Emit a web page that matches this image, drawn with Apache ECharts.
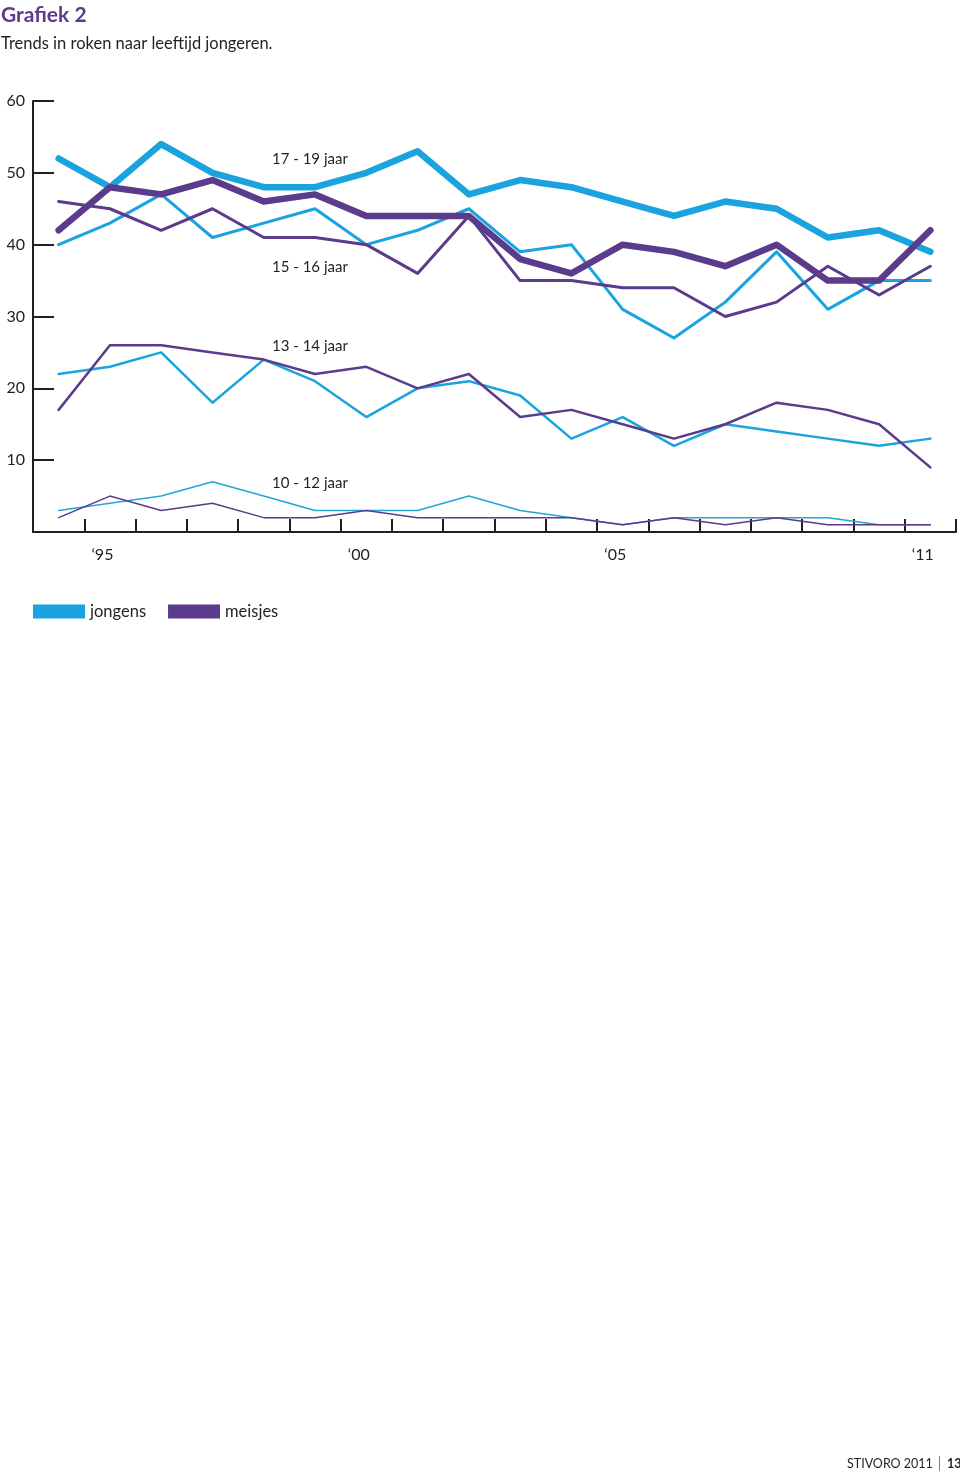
<!DOCTYPE html>
<html>
<head>
<meta charset="utf-8">
<script src="https://cdn.jsdelivr.net/npm/echarts@6/dist/echarts.min.js"></script>
<style>
html,body{margin:0;padding:0;background:#fff;}
#chart{width:960px;height:1473px;}
</style>
</head>
<body>
<div id="chart"></div>
<script>
const years = ['1994','1995','1996','1997','1998','1999','2000','2001','2002','2003','2004','2005','2006','2007','2008','2009','2010','2011'];
const xTickLabels = {'1995':'\u201895','2000':'\u201800','2005':'\u201805','2011':'\u201811'};
const yTickValues = [10,20,30,40,50,60];

const jongens17_19 = [52,48,54,50,48,48,50,53,47,49,48,46,44,46,45,41,42,39];
const meisjes17_19 = [42,48,47,49,46,47,44,44,44,38,36,40,39,37,40,35,35,42];
const jongens15_16 = [40,43,47,41,43,45,40,42,45,39,40,31,27,32,39,31,35,35];
const meisjes15_16 = [46,45,42,45,41,41,40,36,44,35,35,34,34,30,32,37,33,37];
const jongens13_14 = [22,23,25,18,24,21,16,20,21,19,13,16,12,15,14,13,12,13];
const meisjes13_14 = [17,26,26,25,24,22,23,20,22,16,17,15,13,15,18,17,15,9];
const jongens10_12 = [3,4,5,7,5,3,3,3,5,3,2,1,2,2,2,2,1,1];
const meisjes10_12 = [2,5,3,4,2,2,3,2,2,2,2,1,2,1,2,1,1,1];

const groupLabels = ['17 - 19 jaar','15 - 16 jaar','13 - 14 jaar','10 - 12 jaar'];
const legendNames = ['jongens','meisjes'];

const BLUE = '#1aa3de';
const BLUE_THIN = '#23a6d2';
const PURPLE = '#5a3b8c';
const INK = '#231f20';
const FONT = 'Lato, "Open Sans", sans-serif';

function line(name, data, color, width) {
  return {
    name: name, type: 'line', data: data,
    showSymbol: false, symbol: 'none', smooth: false,
    itemStyle: {color: color},
    lineStyle: {color: color, width: width, cap: 'round', join: 'round'},
    emphasis: {disabled: true},
    silent: true
  };
}

const chart = echarts.init(document.getElementById('chart'), null, {renderer: 'canvas'});
chart.setOption({
  animation: false,
  backgroundColor: '#fff',
  grid: {left: 33, top: 101, width: 923, height: 431, containLabel: false},
  xAxis: {
    type: 'category', data: years, boundaryGap: true,
    axisLine: {lineStyle: {color: INK, width: 2}},
    axisTick: {show: true, inside: true, length: 13, interval: 0, lineStyle: {color: INK, width: 2}},
    axisLabel: {interval: 0, margin: 15, fontSize: 16, color: INK, fontFamily: FONT,
      padding: [0, 15, 0, 0],
      formatter: function (v) { return xTickLabels[v] || ''; }},
    splitLine: {show: false}
  },
  yAxis: {
    type: 'value', min: 0, max: 60, interval: 10,
    axisLine: {show: true, lineStyle: {color: INK, width: 2}},
    axisTick: {show: true, inside: true, length: 21, lineStyle: {color: INK, width: 2}},
    axisLabel: {margin: 8, fontSize: 16, color: INK, fontFamily: FONT,
      formatter: function (v) { return yTickValues.indexOf(v) >= 0 ? String(v) : ''; }},
    splitLine: {show: false}
  },
  legend: {
    left: 33, top: 603, padding: 0, itemWidth: 52, itemHeight: 14, itemGap: 22,
    icon: 'rect', selectedMode: false,
    textStyle: {fontSize: 16.5, color: INK, fontFamily: FONT},
    data: [{name: legendNames[0], icon: 'rect', itemStyle: {color: BLUE}},
           {name: legendNames[1], icon: 'rect', itemStyle: {color: PURPLE}}]
  },
  series: [
    line(legendNames[0], jongens10_12, BLUE_THIN, 1.5),
    line(legendNames[1], meisjes10_12, PURPLE, 1.5),
    line(legendNames[0], jongens13_14, BLUE, 2.5),
    line(legendNames[1], meisjes13_14, PURPLE, 2.5),
    line(legendNames[0], jongens15_16, BLUE, 3),
    line(legendNames[1], meisjes15_16, PURPLE, 3),
    line(legendNames[0], jongens17_19, BLUE, 6.5),
    line(legendNames[1], meisjes17_19, PURPLE, 6.5)
  ],
  graphic: [
    {type: 'text', left: 1, top: 5, style: {text: 'Grafiek 2', fill: PURPLE, font: 'bold 21px ' + FONT}},
    {type: 'text', left: 1, top: 35, style: {text: 'Trends in roken naar leeftijd jongeren.', fill: INK, font: '16.5px ' + FONT}},
    {type: 'text', left: 272, top: 152, style: {text: groupLabels[0], fill: INK, font: '15px ' + FONT}},
    {type: 'text', left: 272, top: 260, style: {text: groupLabels[1], fill: INK, font: '15px ' + FONT}},
    {type: 'text', left: 272, top: 339, style: {text: groupLabels[2], fill: INK, font: '15px ' + FONT}},
    {type: 'text', left: 272, top: 476, style: {text: groupLabels[3], fill: INK, font: '15px ' + FONT}},
    {type: 'text', left: 847, top: 1457, style: {text: 'STIVORO 2011', fill: INK, font: '12.5px ' + FONT}},
    {type: 'rect', shape: {x: 939, y: 1456, width: 1, height: 15}, style: {fill: BLUE}},
    {type: 'text', left: 947, top: 1457, style: {text: '13', fill: INK, font: 'bold 12.5px ' + FONT}}
  ]
});
</script>
</body>
</html>
